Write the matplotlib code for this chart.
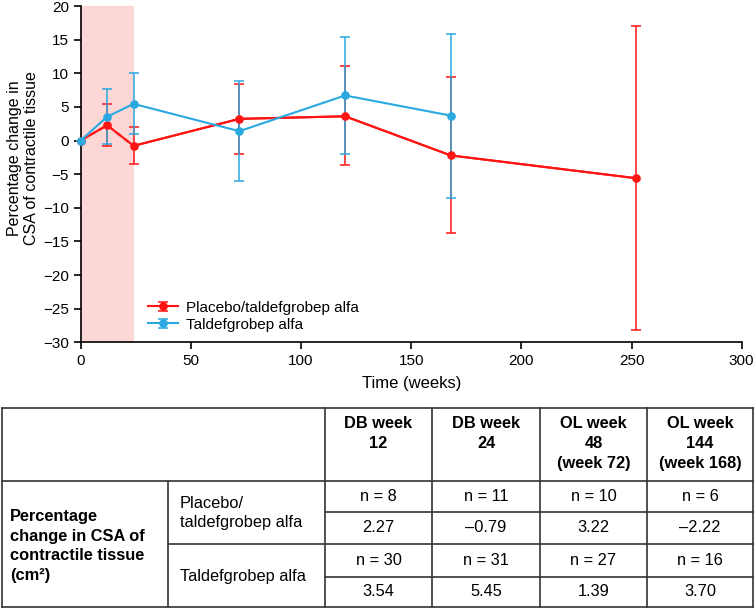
import matplotlib
matplotlib.use("Agg")
import matplotlib.pyplot as plt
from matplotlib.legend_handler import HandlerErrorbar
from matplotlib.container import ErrorbarContainer

plt.rcParams['font.family'] = ['Liberation Sans', 'DejaVu Sans']

# Plot data
weeks_pbo = [0, 12, 24, 72, 120, 168, 252]
mean_pbo = [0, 2.27, -0.79, 3.22, 3.6, -2.22, -5.6]
err_pbo_lo = [0, 3.1, 2.75, 5.2, 7.3, 11.6, 22.6]
err_pbo_hi = [0, 3.1, 2.75, 5.2, 7.55, 11.7, 22.6]

weeks_tal = [0, 12, 24, 72, 120, 168]
mean_tal = [0, 3.54, 5.45, 1.39, 6.7, 3.70]
err_tal_lo = [0, 4.1, 4.5, 7.45, 8.7, 12.2]
err_tal_hi = [0, 4.15, 4.6, 7.5, 8.65, 12.2]

db_end = 24  # double-blind period shaded

# Table data
col_heads = ['DB week\n12', 'DB week\n24', 'OL week\n48\n(week 72)', 'OL week\n144\n(week 168)']
row_head = 'Percentage\nchange in CSA of\ncontractile tissue\n(cm²)'
groups = ['Placebo/\ntaldefgrobep alfa', 'Taldefgrobep alfa']
n_pbo = ['n = 8', 'n = 11', 'n = 10', 'n = 6']
val_pbo = ['2.27', '–0.79', '3.22', '–2.22']
n_tal = ['n = 30', 'n = 31', 'n = 27', 'n = 16']
val_tal = ['3.54', '5.45', '1.39', '3.70']

red = '#ff1414'
blue = '#29a9e0'

fig = plt.figure(figsize=(7.55, 6.1), dpi=100)

# table drawn on a full-figure axes in pixel units
tab = fig.add_axes([0, 0, 1, 1])
tab.set_xlim(0, 755)
tab.set_ylim(610, 0)
tab.axis('off')

xs = [2, 168, 325, 432, 540, 647, 753]
ys = [408, 481, 512, 544, 577, 607]
lc = '#333333'
lw = 1.2
tab.plot([xs[0], xs[-1]], [ys[0], ys[0]], color=lc, lw=lw)
tab.plot([xs[0], xs[-1]], [ys[1], ys[1]], color=lc, lw=lw)
tab.plot([xs[0], xs[-1]], [ys[-1], ys[-1]], color=lc, lw=lw)
tab.plot([xs[1], xs[-1]], [ys[3], ys[3]], color=lc, lw=lw)
tab.plot([xs[2], xs[-1]], [ys[2], ys[2]], color=lc, lw=lw)
tab.plot([xs[2], xs[-1]], [ys[4], ys[4]], color=lc, lw=lw)
for i, x in enumerate(xs):
    y0 = ys[1] if i == 1 else ys[0]
    tab.plot([x, x], [y0, ys[-1]], color=lc, lw=lw)

fs = 11.8
for j, h in enumerate(col_heads):
    cx = (xs[j + 2] + xs[j + 3]) / 2
    tab.text(cx, 416, h, ha='center', va='top', fontsize=fs, fontweight='bold',
             linespacing=1.4)
tab.text(10, 546, row_head, ha='left', va='center', fontsize=fs,
         fontweight='bold', linespacing=1.4)
tab.text(180, 513, groups[0], ha='left', va='center', fontsize=fs,
         linespacing=1.4)
tab.text(180, 577, groups[1], ha='left', va='center', fontsize=fs)
for r, row in enumerate([n_pbo, val_pbo, n_tal, val_tal]):
    cy = (ys[r + 1] + ys[r + 2]) / 2
    for j, s in enumerate(row):
        cx = (xs[j + 2] + xs[j + 3]) / 2
        tab.text(cx, cy, s, ha='center', va='center', fontsize=fs)

# main plot
ax = fig.add_axes([80.7 / 755, 1 - 342.3 / 610, 661 / 755, 336.3 / 610])
ax.axvspan(0, db_end, color='#fdd6d6', lw=0, zorder=0)

# placebo: dashed in DB period, solid after
ax.plot(weeks_pbo[:3], mean_pbo[:3], color=red, lw=1.5, ls=(0, (3, 2)), zorder=2)
ax.plot(weeks_pbo[2:], mean_pbo[2:], color=red, lw=1.5, zorder=2)
ax.errorbar(weeks_pbo, mean_pbo, yerr=[err_pbo_lo, err_pbo_hi], fmt='o', color=red,
            ms=5.2, elinewidth=1.1, capsize=3.5, capthick=1.1, zorder=3, clip_on=False,
            label='Placebo/taldefgrobep alfa')
ax.errorbar(weeks_tal, mean_tal, yerr=[err_tal_lo, err_tal_hi], fmt='-o', color=blue,
            lw=1.5, ms=5.2, elinewidth=1.1, capsize=3.5, capthick=1.1, zorder=3,
            clip_on=False, label='Taldefgrobep alfa')
# red line handle for legend
h, l = ax.get_legend_handles_labels()
h[0].lines[0].set_linestyle('-')
h[0].lines[0].set_linewidth(1.5)
ax.set_xlim(0, 300)
ax.set_ylim(-30, 20)
ax.set_xticks(range(0, 301, 50))
ax.set_yticks(range(-30, 21, 5))
ax.spines['top'].set_visible(False)
ax.spines['right'].set_visible(False)
ax.spines['left'].set_linewidth(1.2)
ax.spines['bottom'].set_linewidth(1.2)
ax.tick_params(labelsize=11, width=1.2, length=5, direction='out')
ax.set_xlabel('Time (weeks)', fontsize=12, labelpad=6)
ax.set_ylabel('Percentage change in\nCSA of contractile tissue', fontsize=11.5)
ax.yaxis.set_label_coords(-0.063, 0.548)
ax.legend(frameon=False, loc='lower left', bbox_to_anchor=(0.085, 0.0),
          fontsize=11, handlelength=2, handletextpad=0.5, labelspacing=0.2,
          borderaxespad=0.3,
          handler_map={ErrorbarContainer: HandlerErrorbar(yerr_size=0.3)})

fig.savefig('out.png', dpi=100)
